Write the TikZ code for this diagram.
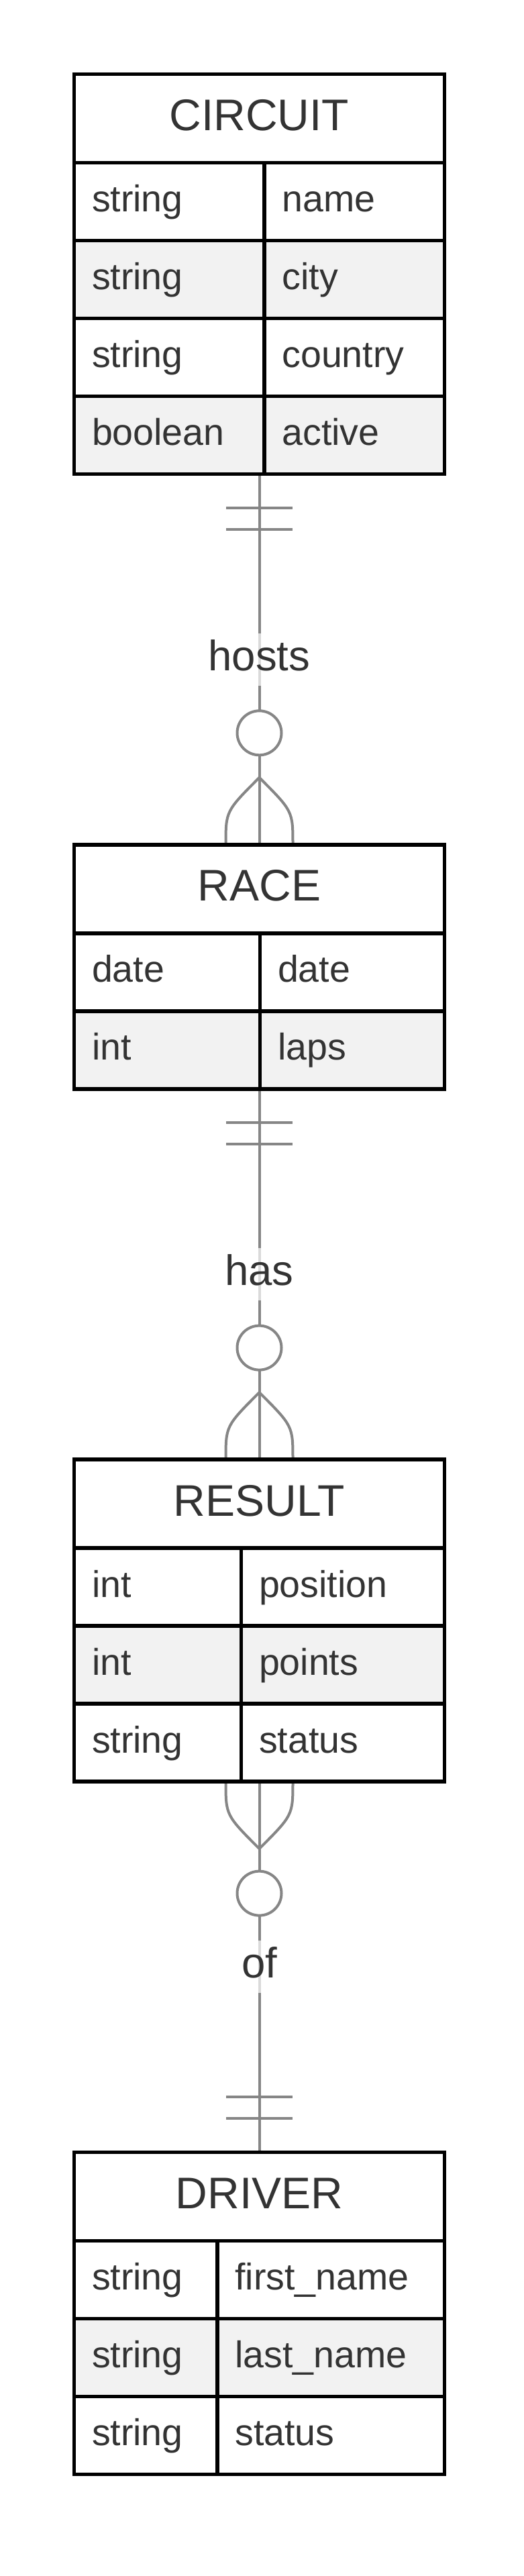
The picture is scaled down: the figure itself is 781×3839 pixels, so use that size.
\documentclass[tikz,border=0pt]{standalone}
\usepackage{fontspec}
\setmainfont{Liberation Sans}
\usetikzlibrary{calc}
\definecolor{textc}{HTML}{333333}
\definecolor{rowgray}{HTML}{F2F2F2}
\definecolor{connc}{HTML}{868686}
\newcommand{\erHeadFont}{\fontsize{66pt}{79pt}\selectfont}
\newcommand{\erAttrFont}{\fontsize{55.5pt}{66pt}\selectfont}
\newcommand{\erLblFont}{\fontsize{63.5pt}{76pt}\selectfont}
\tikzset{
  cellbox/.style={draw=black, line width=5.5pt, inner xsep=26.5pt, inner ysep=0pt,
    outer sep=0pt, minimum height=116pt, anchor=north west, text height=40pt,
    text depth=10pt, font=\erAttrFont, text=textc, align=left},
  headbox/.style={draw=black, fill=white, line width=5.5pt, inner sep=0pt, outer sep=0pt,
    minimum width=552pt, minimum height=132pt, anchor=north west, text height=48pt,
    text depth=12pt, font=\erHeadFont, text=textc},
  framebox/.style={draw=black, line width=5.5pt, inner sep=0pt, outer sep=0pt,
    minimum width=552pt, anchor=north west},
  conn/.style={draw=connc, line width=4pt},
  lbl/.style={fill=white, fill opacity=0.7, text opacity=1, text=textc, font=\erLblFont,
    inner xsep=4pt, inner ysep=0pt, text height=55.6pt, text depth=22.4pt}
}
\newcommand{\erEntRow}[6]{%
  \pgfmathsetmacro{\erColL}{#3-110.5-53}%
  \pgfmathsetmacro{\erColR}{662.5-#3-53}%
  \node[cellbox, fill=#4, text width=\erColL pt] (#1t) at (110.5,#2) {#5};
  \node[cellbox, fill=#4, text width=\erColR pt] (#1a) at (#3,#2) {#6};
}
\begin{document}
\begin{tikzpicture}[x=1pt, y=-1pt]
\useasboundingbox[fill=white] (0,0) rectangle (781,3839);

% entity frames (named, used by connectors)
\path (110.5,110.5) node[framebox, minimum height=596pt] (circuit) {};
\path (110.5,1258.8) node[framebox, minimum height=364pt] (race) {};
\path (110.5,2175.1) node[framebox, minimum height=480pt] (result) {};
\path (110.5,3207.4) node[framebox, minimum height=480pt] (driver) {};

% ---------- connectors ----------
% CIRCUIT -- RACE
\draw[conn] (circuit.south) -- (race.north);
\draw[conn] ($(circuit.south)+(-49.5,50)$) -- ++(99,0);
\draw[conn] ($(circuit.south)+(-49.5,82.5)$) -- ++(99,0);
\draw[conn] ($(race.north)+(0,-100)$) .. controls ($(race.north)+(-50,-50)$) .. ($(race.north)+(-50,0)$);
\draw[conn] ($(race.north)+(0,-100)$) .. controls ($(race.north)+(50,-50)$) .. ($(race.north)+(50,0)$);
\draw[conn, fill=white] ($(race.north)+(0,-166.5)$) circle[radius=33pt];
\node[lbl] (lhosts) at ($(circuit.south)!0.5!(race.north)$) {hosts};

% RACE -- RESULT
\draw[conn] (race.south) -- (result.north);
\draw[conn] ($(race.south)+(-49.5,50)$) -- ++(99,0);
\draw[conn] ($(race.south)+(-49.5,82.5)$) -- ++(99,0);
\draw[conn] ($(result.north)+(0,-100)$) .. controls ($(result.north)+(-50,-50)$) .. ($(result.north)+(-50,0)$);
\draw[conn] ($(result.north)+(0,-100)$) .. controls ($(result.north)+(50,-50)$) .. ($(result.north)+(50,0)$);
\draw[conn, fill=white] ($(result.north)+(0,-166.5)$) circle[radius=33pt];
\node[lbl] (lhas) at ($(race.south)!0.5!(result.north)$) {has};

% RESULT -- DRIVER
\draw[conn] (result.south) -- (driver.north);
\draw[conn] ($(result.south)+(0,100)$) .. controls ($(result.south)+(-50,50)$) .. ($(result.south)+(-50,0)$);
\draw[conn] ($(result.south)+(0,100)$) .. controls ($(result.south)+(50,50)$) .. ($(result.south)+(50,0)$);
\draw[conn, fill=white] ($(result.south)+(0,166.5)$) circle[radius=33pt];
\draw[conn] ($(driver.north)+(-49.5,-50)$) -- ++(99,0);
\draw[conn] ($(driver.north)+(-49.5,-82.5)$) -- ++(99,0);
\node[lbl] (lof) at ($(result.south)!0.5!(driver.north)$) {of};

% ---------- CIRCUIT ----------
\node[headbox] (circuithd) at (110.5,110.5) {CIRCUIT};
\erEntRow{cA}{242.5}{394}{white}{string}{name}
\erEntRow{cB}{358.5}{394}{rowgray}{string}{city}
\erEntRow{cC}{474.5}{394}{white}{string}{country}
\erEntRow{cD}{590.5}{394}{rowgray}{boolean}{active}

% ---------- RACE ----------
\node[headbox] (racehd) at (110.5,1258.8) {RACE};
\erEntRow{rA}{1390.8}{387.5}{white}{date}{date}
\erEntRow{rB}{1506.8}{387.5}{rowgray}{int}{laps}

% ---------- RESULT ----------
\node[headbox] (resulthd) at (110.5,2175.1) {RESULT};
\erEntRow{sA}{2307.1}{359.5}{white}{int}{position}
\erEntRow{sB}{2423.1}{359.5}{rowgray}{int}{points}
\erEntRow{sC}{2539.1}{359.5}{white}{string}{status}

% ---------- DRIVER ----------
\node[headbox] (driverhd) at (110.5,3207.4) {DRIVER};
\erEntRow{dA}{3339.4}{324}{white}{string}{first\_name}
\erEntRow{dB}{3455.4}{324}{rowgray}{string}{last\_name}
\erEntRow{dC}{3571.4}{324}{white}{string}{status}

\end{tikzpicture}
\end{document}
